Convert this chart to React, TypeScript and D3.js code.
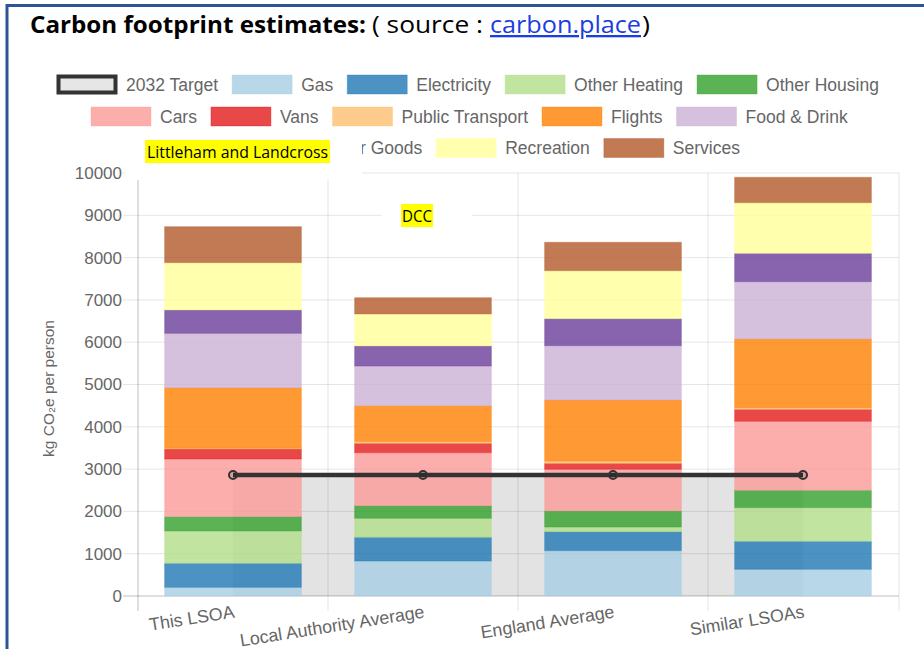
import React, { useEffect, useRef } from "react";
import * as d3 from "d3";

const categories = ["This LSOA", "Local Authority Average", "England Average", "Similar LSOAs"];

// kg CO2e per person, one value per category
const gas = [205, 827, 1071, 631];
const electricity = [568, 561, 449, 662];
const otherHeating = [764, 449, 111, 795];
const otherHousing = [338, 298, 378, 411];
const cars = [1364, 1253, 986, 1631];
const vans = [236, 222, 142, 283];
const publicTransport = [20, 40, 53, 37];
const flights = [1430, 849, 1444, 1626];
const foodDrink = [1285, 938, 1283, 1355];
const otherGoods = [551, 473, 639, 670];
const recreation = [1119, 757, 1134, 1197];
const services = [851, 385, 672, 600];
const target2032 = [2860, 2860, 2860, 2860];

const seriesNames = ["Gas", "Electricity", "Other Heating", "Other Housing", "Cars", "Vans",
  "Public Transport", "Flights", "Food & Drink", "Other Goods", "Recreation", "Services"];
const seriesValues = [gas, electricity, otherHeating, otherHousing, cars, vans,
  publicTransport, flights, foodDrink, otherGoods, recreation, services];
const seriesColors = ["#a6cee3", "#1f78b4", "#b2df8a", "#33a02c", "#fb9a99", "#e31a1c",
  "#fdbf6f", "#ff7f00", "#cab2d6", "#6a3d9a", "#ffff99", "#b15928"];

const yTicks = [0, 1000, 2000, 3000, 4000, 5000, 6000, 7000, 8000, 9000, 10000];

const legendRows = [
  ["2032 Target", "Gas", "Electricity", "Other Heating", "Other Housing"],
  ["Cars", "Vans", "Public Transport", "Flights", "Food & Drink"],
  ["Other Goods", "Recreation", "Services"],
];

const App = () => {
  const svgRef = useRef<SVGSVGElement>(null);

  useEffect(() => {
    const svg = d3.select(svgRef.current);
    svg.selectAll("*").remove();

    const width = 924;
    const height = 649;
    const font = "'Liberation Sans', Arial, Helvetica, sans-serif";
    const grey = "#666";
    const grid = "rgba(0,0,0,0.1)";
    const zero = "rgba(0,0,0,0.25)";

    svg.append("rect").attr("width", width).attr("height", height).attr("fill", "#fff");

    // the pasted label hides the left part of the third legend row
    svg.append("defs").append("clipPath")
      .attr("id", "legend-clip")
      .append("rect")
      .attr("x", 362).attr("y", 0).attr("width", width).attr("height", height);

    // frame
    svg.append("path")
      .attr("d", `M7,${height} L7,5.5 L${width},5.5`)
      .attr("fill", "none")
      .attr("stroke", "#2f5496")
      .attr("stroke-width", 3);

    // title, pieces stretched to the reference widths
    const titleFont = "'Open Sans', 'Liberation Sans', Arial, sans-serif";
    const titleParts = [
      { text: "Carbon footprint estimates:", x: 30, w: 336, bold: true, link: false },
      { text: "( source :", x: 372, w: 111, bold: false, link: false },
      { text: "carbon.place", x: 490, w: 151, bold: false, link: true },
      { text: ")", x: 642, w: 8, bold: false, link: false },
    ];
    titleParts.forEach(p => {
      svg.append("text")
        .attr("x", p.x).attr("y", 33)
        .attr("font-family", titleFont)
        .attr("font-size", 23)
        .attr("font-weight", p.bold ? "bold" : "normal")
        .attr("textLength", p.w)
        .attr("lengthAdjust", "spacingAndGlyphs")
        .attr("fill", p.link ? "#1a3ee0" : "#000")
        .attr("text-decoration", p.link ? "underline" : null)
        .text(p.text);
    });

    const margin = { top: 173, right: 26, bottom: 53, left: 138 };

    const x = d3.scaleBand<string>()
      .domain(categories)
      .range([margin.left, width - margin.right]);

    const y = d3.scaleLinear()
      .domain([0, 10000])
      .range([height - margin.bottom, margin.top]);

    const barW = x.bandwidth() * 0.72;
    const cx = (c: string) => (x(c) as number) + x.bandwidth() / 2;

    // horizontal grid + tick marks
    yTicks.forEach(t => {
      svg.append("line")
        .attr("x1", margin.left - 15).attr("x2", width - margin.right + 1)
        .attr("y1", y(t)).attr("y2", y(t))
        .attr("stroke", t === 0 ? zero : grid)
        .attr("stroke-width", 1);
    });

    // vertical grid at band edges
    const edges = categories.map(c => x(c) as number).concat([width - margin.right + 1]);
    edges.forEach((e, i) => {
      svg.append("line")
        .attr("x1", e).attr("x2", e)
        .attr("y1", y(10000)).attr("y2", y(0) + 15)
        .attr("stroke", i === 0 ? zero : grid)
        .attr("stroke-width", 1);
    });

    // 2032 target fill below line
    const area = d3.area<number>()
      .x((d, i) => cx(categories[i]))
      .y0(y(0))
      .y1(d => y(d));

    svg.append("path")
      .datum(target2032)
      .attr("fill", "rgba(0,0,0,0.11)")
      .attr("d", area);

    // stacked bars
    const table = categories.map((c, i) => {
      const row: any = { category: c };
      seriesNames.forEach((s, k) => { row[s] = seriesValues[k][i]; });
      return row;
    });

    const stacked = d3.stack().keys(seriesNames)(table);

    stacked.forEach((layer, k) => {
      svg.append("g")
        .selectAll("rect")
        .data(layer)
        .join("rect")
        .attr("x", (d: any) => cx(d.data.category) - barW / 2)
        .attr("width", barW)
        .attr("y", d => y(d[1]))
        .attr("height", d => y(d[0]) - y(d[1]))
        .attr("fill", seriesColors[k])
        .attr("fill-opacity", 0.8)
        .attr("stroke", seriesColors[k])
        .attr("stroke-opacity", 0.35)
        .attr("stroke-width", 1);
    });

    // target line
    const line = d3.line<number>()
      .x((d, i) => cx(categories[i]))
      .y(d => y(d));

    svg.append("path")
      .datum(target2032)
      .attr("fill", "none")
      .attr("stroke", "#333")
      .attr("stroke-width", 4.5)
      .attr("d", line);

    svg.append("g")
      .selectAll("circle")
      .data(target2032)
      .join("circle")
      .attr("cx", (d, i) => cx(categories[i]))
      .attr("cy", d => y(d))
      .attr("r", 4)
      .attr("fill", "rgba(0,0,0,0.1)")
      .attr("stroke", "#333")
      .attr("stroke-width", 2);

    // y tick labels
    svg.append("g")
      .selectAll("text")
      .data(yTicks)
      .join("text")
      .attr("x", margin.left - 16)
      .attr("y", d => y(d))
      .attr("dy", "0.35em")
      .attr("text-anchor", "end")
      .attr("font-family", font)
      .attr("font-size", 17)
      .attr("fill", grey)
      .text(d => d);

    // x tick labels
    categories.forEach(c => {
      svg.append("text")
        .attr("transform", `translate(${cx(c)},${y(0) + 8}) rotate(-9)`)
        .attr("text-anchor", "end")
        .attr("dy", "0.76em")
        .attr("font-family", font)
        .attr("font-size", 17.8)
        .attr("fill", grey)
        .text(c);
    });

    // y axis title
    svg.append("text")
      .attr("transform", `translate(54,${(y(0) + y(10000)) / 2 + 4}) rotate(-90)`)
      .attr("text-anchor", "middle")
      .attr("font-family", font)
      .attr("font-size", 15.5)
      .attr("fill", grey)
      .text("kg CO₂e per person");

    // legend
    const rowStart = [57, 91, 253];
    const rowY = [84.5, 116.5, 148];
    const colorOf = (name: string) => seriesColors[seriesNames.indexOf(name)];
    legendRows.forEach((row, r) => {
      let px = rowStart[r];
      row.forEach(name => {
        const g = svg.append("g");
        if (r === 2) g.attr("clip-path", "url(#legend-clip)");
        if (name === "2032 Target") {
          g.append("rect")
            .attr("x", px + 1.5).attr("y", rowY[r] - 8)
            .attr("width", 57).attr("height", 16)
            .attr("fill", "#e6e6e6")
            .attr("stroke", "#333")
            .attr("stroke-width", 4);
        } else {
          g.append("rect")
            .attr("x", px).attr("y", rowY[r] - 9.5)
            .attr("width", 60).attr("height", 19)
            .attr("fill", colorOf(name))
            .attr("fill-opacity", 0.8)
            .attr("stroke", colorOf(name))
            .attr("stroke-opacity", 0.35);
        }
        const t = g.append("text")
          .attr("x", px + 69)
          .attr("y", rowY[r])
          .attr("dy", "0.35em")
          .attr("font-family", font)
          .attr("font-size", 17.5)
          .attr("fill", grey)
          .text(name);
        const tw = (t.node() as SVGTextElement).getComputedTextLength();
        px += 69 + tw + 14;
      });
    });

    // pasted-over labels
    const noteFont = "'Open Sans', 'Noto Sans', sans-serif";
    svg.append("rect")
      .attr("x", 125).attr("y", 133).attr("width", 237).attr("height", 47)
      .attr("fill", "#fff");
    svg.append("rect")
      .attr("x", 145).attr("y", 140).attr("width", 185).attr("height", 23)
      .attr("fill", "#ffff00");
    svg.append("text")
      .attr("x", 147).attr("y", 152)
      .attr("dy", "0.36em")
      .attr("font-family", noteFont)
      .attr("font-size", 17)
      .attr("textLength", 181)
      .attr("lengthAdjust", "spacingAndGlyphs")
      .attr("fill", "#000")
      .text("Littleham and Landcross");

    svg.append("rect")
      .attr("x", 382).attr("y", 193).attr("width", 90).attr("height", 57)
      .attr("fill", "#fff");
    svg.append("rect")
      .attr("x", 401).attr("y", 204).attr("width", 32).attr("height", 23)
      .attr("fill", "#ffff00");
    svg.append("text")
      .attr("x", 402).attr("y", 216)
      .attr("dy", "0.36em")
      .attr("font-family", noteFont)
      .attr("font-size", 17)
      .attr("textLength", 30)
      .attr("lengthAdjust", "spacingAndGlyphs")
      .attr("fill", "#000")
      .text("DCC");
  }, []);

  return (
    <svg
      ref={svgRef}
      width={924}
      height={649}
      viewBox="0 0 924 649"
      style={{ position: "absolute", left: 0, top: 0, display: "block" }}
    />
  );
};

export default App;
